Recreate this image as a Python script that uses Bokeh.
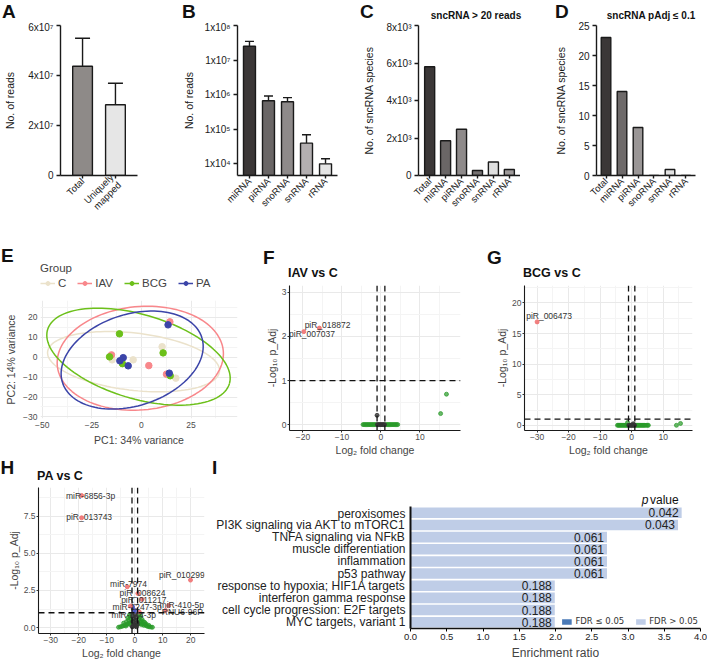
import math
import numpy as np
from bokeh.plotting import figure
from bokeh.layouts import row, column
from bokeh.models import (ColumnDataSource, FactorRange, Range1d, FixedTicker, Whisker,
                          TeeHead, Legend, LegendItem, Span, PrintfTickFormatter, Div)
from bokeh.core.properties import value
from bokeh.embed import file_html
from bokeh.resources import INLINE

FONT = "Liberation Sans"
NAN = float("nan")

# ---------------- data ----------------
a_cats = ["Total", "Uniquely\nmapped"]
a_vals = [4.37e7, 2.83e7]
a_upper = [5.49e7, 3.69e7]
a_colors = ["#8e8a88", "#e6e6e6"]
a_ticks = [0, 2e7, 4e7, 6e7]
a_tick_labels = ["0", "2x10\u2077", "4x10\u2077", "6x10\u2077"]

b_cats = ["miRNA", "piRNA", "snoRNA", "snRNA", "rRNA"]
b_vals = [2.5e7, 6.6e5, 6.2e5, 3.9e4, 9.8e3]
b_upper = [3.47e7, 9.1e5, 8.1e5, 6.8e4, 1.37e4]
b_colors = ["#3b3737", "#6a6666", "#8e8a8a", "#b3afb1", "#e4e4e4"]
b_ticks = [1e4, 1e5, 1e6, 1e7, 1e8]
b_tick_labels = ["1x10\u2074", "1x10\u2075", "1x10\u2076", "1x10\u2077", "1x10\u2078"]
b_axis_min = 4.5e3

c_cats = ["Total", "miRNA", "piRNA", "snoRNA", "snRNA", "rRNA"]
c_vals = [5800, 1850, 2470, 270, 720, 320]
c_colors = ["#3b3737", "#6a6666", "#8e8a8a", "#767272", "#e0e0e0", "#9e9a9a"]
c_ticks = [0, 2000, 4000, 6000, 8000]
c_tick_labels = ["0", "2x10\u00b3", "4x10\u00b3", "6x10\u00b3", "8x10\u00b3"]

d_cats = ["Total", "miRNA", "piRNA", "snoRNA", "snRNA", "rRNA"]
d_vals = [23, 14, 8, 0, 1, 0]
d_colors = ["#3b3737", "#6e6a6a", "#9a9696", "#b3afb1", "#e2e2e2", "#e2e2e2"]
d_ticks = [0, 5, 10, 15, 20, 25]

pca_groups = ["C", "IAV", "BCG", "PA"]
pca_colors = ["#ebe2cb", "#f8878b", "#6cc01a", "#3b44a8"]
pca_C_x = [10.4, -14.8, -4.2, 17.3]
pca_C_y = [5.3, -1.3, -1.3, -10.5]
pca_IAV_x = [14.3, -15.1, 3.7, 12.6]
pca_IAV_y = [17.8, 1.2, -4.2, -8.5]
pca_BCG_x = [-11.1, 10.9, -16.1, -9.6, 14.5]
pca_BCG_y = [11.8, 2.2, 0.2, -3.2, -9.3]
pca_PA_x = [13.4, -9.2, -10.9, -6.7, 14.0]
pca_PA_y = [16.3, -0.2, -1.8, -4.3, -8.0]
ell_cx = [-4.0, -0.6, -1.5, -4.7]
ell_cy = [-2.2, -0.5, 0.3, -1.4]
ell_w = [87.2, 84.0, 95.6, 73.8]
ell_h = [28.8, 52.0, 42.3, 46.0]
ell_angle_deg = [-6.6, 5.0, -16.5, 18.0]

# volcano F (IAV vs C)
f_ns_x = [-0.9, -0.6, -0.3, 0.0, 0.3, 0.6, 0.9, -1.0]
f_ns_y = [0, 0, 0, 0, 0, 0, 0, 0.21]
f_fc_x = [-4.6, -4.3, -4.0, -3.7, -3.4, -3.1, -2.8, -2.5, -2.2, -1.9, -1.6, -1.3,
          1.3, 1.6, 1.9, 2.2, 2.5, 2.8, 3.1, 3.4, 3.7, 4.0, 4.3, 15.3, 16.8]
f_fc_y = [0, 0, 0, 0, 0, 0, 0, 0, 0, 0, 0, 0,
          0, 0, 0, 0, 0, 0, 0, 0, 0, 0, 0, 0.25, 0.69]
f_sig_names = ["piR_018872", "piR_007037"]
f_sig_x = [-15.8, -19.8]
f_sig_y = [2.19, 2.11]
f_lab_x = [-13.7, -17.7]
f_lab_y = [2.27, 2.05]

# volcano G (BCG vs C)
g_ns_x = [-0.9, -0.6, -0.3, 0.0, 0.3, 0.6, 0.9, 0.5]
g_ns_y = [0, 0, 0, 0, 0, 0, 0, 0.25]
g_fc_x = [-4.5, -4.2, -3.9, -3.6, -3.3, -3.0, -2.7, -2.4, -2.1, -1.8, -1.5, -1.2,
          1.2, 1.5, 1.8, 2.1, 2.4, 2.7, 3.0, 3.3, 3.6, 3.9, 4.2, 4.6, 5.0, 5.3,
          14.2, 15.5, -1.3]
g_fc_y = [0, 0, 0, 0, 0, 0, 0, 0, 0, 0, 0, 0,
          0, 0, 0, 0, 0, 0, 0, 0, 0, 0, 0, 0, 0, 0,
          0.0, 0.3, 0.45]
g_sig_names = ["piR_006473"]
g_sig_x = [-30.0]
g_sig_y = [16.9]
g_lab_x = [-26.2]
g_lab_y = [17.8]

# volcano H (PA vs C)
h_ns_x = [-0.9, -0.6, -0.3, 0.0, 0.3, 0.6, 0.9, -0.7, 0.2, 0.8, -0.4, 0.5, -0.8, 0.1]
h_ns_y = [0.05, 0.1, 0.2, 0.15, 0.1, 0.05, 0.2, 0.4, 0.5, 0.35, 0.6, 0.7, 0.8, 0.9]
h_fc_x = [-5.8, -5.2, -4.6, -4.1, -3.6, -3.2, -2.8, -2.4, -2.0, -1.6, -1.3,
          1.3, 1.6, 2.0, 2.4, 2.8, 3.2, 3.6, 4.1, 4.6, 5.2, 5.8, 6.3,
          -4.0, -3.0, -2.2, -1.5, 1.5, 2.2, 3.0, 4.0, 5.0,
          -2.5, -1.7, 1.7, 2.6, 3.5, -1.9, 2.0, 1.4]
h_fc_y = [0.02, 0.05, 0.08, 0.12, 0.15, 0.1, 0.2, 0.25, 0.3, 0.2, 0.35,
          0.3, 0.25, 0.35, 0.2, 0.25, 0.15, 0.2, 0.12, 0.08, 0.05, 0.03, 0.02,
          0.3, 0.4, 0.5, 0.6, 0.55, 0.45, 0.4, 0.25, 0.15,
          0.65, 0.75, 0.7, 0.55, 0.35, 0.85, 0.8, 0.9]
h_p_x = [-0.8, -0.4, 0.3]
h_p_y = [1.4, 1.2, 1.1]
h_sig_names = ["miR-6856-3p", "piR_013743", "piR_010299", "miR-7974", "piR_008624",
               "piR_011217", "miR-1247-3p", "miR-410-5p", "RNU6-96P", "miR-144-3p"]
h_sig_x = [-19.0, -19.0, 19.9, -2.7, 1.1, 2.6, -1.6, 12.1, 11.0, 1.6]
h_sig_y = [8.9, 7.4, 3.2, 2.75, 2.3, 1.9, 1.45, 1.48, 1.15, 1.05]
h_lab_x = [-15.8, -16.3, 16.8, -2.25, 2.75, 3.2, 0.85, 16.8, 17.0, -0.35]
h_lab_y = [8.9, 7.42, 3.57, 2.93, 2.33, 1.88, 1.41, 1.52, 1.04, 0.82]

# enrichment (I)
i_terms = ["peroxisomes", "PI3K signaling via AKT to mTORC1", "TNFA signaling via NFkB",
           "muscle differentiation", "inflammation", "p53 pathway",
           "response to hypoxia; HIF1A targets", "interferon gamma response",
           "cell cycle progression: E2F targets", "MYC targets, variant 1"]
i_ratio = [3.74, 3.69, 2.71, 2.71, 2.71, 2.71, 1.99, 1.99, 1.99, 1.99]
i_pval = ["0.042", "0.043", "0.061", "0.061", "0.061", "0.061", "0.188", "0.188", "0.188", "0.188"]
i_ticks = [0.0, 0.5, 1.0, 1.5, 2.0, 2.5, 3.0, 3.5, 4.0]
i_xmax = 4.0

# ---------------- geometry (px from page top-left) ----------------
# left, top, min_border_left, frame_w, min_border_right, min_border_top, frame_h, min_border_bottom
G_A = (0, 21, 60, 77, 33, 4, 150, 52)
G_B = (170, 21, 67, 100, 3, 4, 150, 52)
G_C = (340, 21, 78, 102, 0, 4, 150, 52)
G_D = (520, 21, 76, 99, 12, 4, 150, 52)
G_EL = (0, 262, 40, 197, 11, 0, 33, 0)
G_E = (0, 295, 40, 197, 11, 5, 118, 40)
G_F = (248, 280, 41, 171, 18, 5, 145, 28)
G_G = (478, 280, 46, 168, 15, 5, 145, 28)
G_H = (0, 485, 38, 166, 6, 2, 146, 29)
G_I = (210, 506, 200, 290, 7, 0, 127, 29)
# header strips: left, top, width, height
H_1 = (0, 0, 707, 21)
H_E = (0, 227, 248, 35)
H_FG = (248, 227, 459, 53)
H_H = (0, 458, 210, 27)
H_I = (210, 458, 497, 48)


def make_fig(g, x_range, y_range, **kw):
    left, top, mbl, fw, mbr, mbt, fh, mbb = g
    p = figure(x_range=x_range, y_range=y_range, width=mbl + fw + mbr, height=mbt + fh + mbb,
               min_border_left=mbl, min_border_right=mbr, min_border_top=mbt,
               min_border_bottom=mbb, output_backend="svg", toolbar_location=None, **kw)
    p.outline_line_color = None
    p.background_fill_color = "white"
    p.border_fill_color = "white"
    return p


def span_html(x, y, text, size, weight="bold", style="normal", align="left"):
    tx = {"left": "0", "center": "-50%", "right": "-100%"}[align]
    return ('<span style="position:absolute;left:%.1fpx;top:%.1fpx;transform:translate(%s,-50%%);'
            'font-family:\'Liberation Sans\',Arial,sans-serif;font-size:%s;font-weight:%s;'
            'font-style:%s;white-space:nowrap;line-height:1;color:#111">%s</span>'
            % (x, y, tx, size, weight, style, text))


def header_div(h, items):
    left, top, w, hh = h
    parts = []
    for it in items:
        rx, ry, text, size = it[:4]
        kw = it[4] if len(it) > 4 else {}
        parts.append(span_html(rx - left, ry - top, text, size, **kw))
    html = ('<div style="position:relative;width:%dpx;height:%dpx;overflow:visible">%s</div>'
            % (w, hh, "".join(parts)))
    return Div(text=html, width=w, height=hh, margin=0)


def gp_style(p):
    for ax in (p.xaxis, p.yaxis):
        ax.axis_line_width = 1.4
        ax.axis_line_color = "#1a1a1a"
        ax.major_tick_line_width = 1.4
        ax.major_tick_line_color = "#1a1a1a"
        ax.major_tick_in = 0
        ax.major_tick_out = 4
        ax.minor_tick_out = 0
        ax.minor_tick_line_color = None
        ax.major_label_text_font = FONT
        ax.major_label_text_font_size = "10px"
        ax.major_label_text_color = "#1a1a1a"
        ax.major_label_text_line_height = 1.0
        ax.axis_label_text_font = FONT
        ax.axis_label_text_font_size = "10.5px"
        ax.axis_label_text_font_style = "normal"
        ax.axis_label_text_color = "#1a1a1a"
    p.yaxis.major_label_standoff = 3
    p.xaxis.major_label_standoff = 1
    p.xaxis.axis_label_standoff = 0
    p.xaxis.major_tick_out = 3
    p.xaxis.major_label_text_font_size = "9.5px"
    p.grid.grid_line_color = None
    p.xaxis.major_label_orientation = math.pi / 4


def bar_panel(g, cats, vals, colors, yr, ticks, labels, pad, bw, ylabel,
              upper=None, tee=10, bottom=0, log=False):
    kw = {"y_axis_type": "log"} if log else {}
    p = make_fig(g, FactorRange(factors=cats, range_padding=pad, range_padding_units="absolute"),
                 Range1d(*yr), **kw)
    src = ColumnDataSource(dict(cat=cats, val=vals, color=colors))
    if upper is not None:
        src.data["upper"] = upper
    p.vbar(x="cat", top="val", bottom=bottom, width=bw, fill_color="color",
           line_color="#1a1a1a", line_width=1.4, source=src)
    if upper is not None:
        p.add_layout(Whisker(base="cat", lower="val", upper="upper", source=src,
                             dimension="height", lower_head=None,
                             upper_head=TeeHead(size=tee, line_width=1.4, line_color="#1a1a1a"),
                             line_width=1.4, line_color="#1a1a1a"))
    p.yaxis.ticker = FixedTicker(ticks=ticks)
    if labels is not None:
        p.yaxis.major_label_overrides = {float(t): l for t, l in zip(ticks, labels)}
    p.yaxis.axis_label = ylabel
    gp_style(p)
    return p


pA = bar_panel(G_A, a_cats, a_vals, a_colors, (0, 6e7), a_ticks, a_tick_labels, 0.17, 0.6,
               "No. of reads", upper=a_upper, tee=15)
pB = bar_panel(G_B, b_cats, b_vals, b_colors, (b_axis_min, 1e8), b_ticks, b_tick_labels, 0.13,
               0.63, "No. of reads", upper=b_upper, tee=9, bottom=b_axis_min, log=True)
pC = bar_panel(G_C, c_cats, c_vals, c_colors, (0, 8000), c_ticks, c_tick_labels, 0.2, 0.63,
               "No. of sncRNA species")
pD = bar_panel(G_D, d_cats, d_vals, d_colors, (0, 25), d_ticks, None, 0.095, 0.6,
               "No. of sncRNA species")
pA.yaxis.axis_label_standoff = 9
pB.yaxis.axis_label_standoff = 7
pC.yaxis.axis_label_standoff = 8
pD.yaxis.axis_label_standoff = 8

div1 = header_div(H_1, [
    (2, 10.5, "A", "19px"), (182, 10.5, "B", "19px"), (360, 10.5, "C", "19px"),
    (555, 10.5, "D", "19px"),
    (476, 16, "sncRNA &gt; 20 reads", "10px", {"align": "center"}),
    (651, 16, "sncRNA pAdj \u2264 0.1", "10px", {"align": "center"}),
])

# ---------------- E: PCA ----------------
pE = make_fig(G_E, Range1d(-50.9, 48.4), Range1d(-30.8, 28.55))
pE.xaxis.ticker = FixedTicker(ticks=[-50, -25, 0, 25], minor_ticks=[-37.5, -12.5, 12.5, 37.5])
pE.yaxis.ticker = FixedTicker(ticks=[-30, -20, -10, 0, 10, 20], minor_ticks=[-25, -15, -5, 5, 15, 25])
pE.grid.grid_line_color = "#e9e9e9"
pE.grid.minor_grid_line_color = "#f4f4f4"
for ax in (pE.xaxis, pE.yaxis):
    ax.axis_line_color = None
    ax.major_tick_line_color = None
    ax.minor_tick_line_color = None
    ax.major_tick_out = 0
    ax.minor_tick_out = 0
    ax.major_label_text_font = FONT
    ax.major_label_text_font_size = "8.5px"
    ax.major_label_text_color = "#4d4d4d"
    ax.major_label_text_line_height = 0.9
    ax.major_label_standoff = 3
    ax.axis_label_text_font = FONT
    ax.axis_label_text_font_size = "10.5px"
    ax.axis_label_text_font_style = "normal"
    ax.axis_label_text_line_height = 0.9
    ax.axis_label_standoff = 3
pE.xaxis.axis_label = "PC1: 34% variance"
pE.yaxis.axis_label = "PC2: 14% variance"

t = np.linspace(0, 2 * np.pi, 120)
for cx, cy, w, h, ang, col in zip(ell_cx, ell_cy, ell_w, ell_h, ell_angle_deg, pca_colors):
    th = math.radians(ang)
    ex = cx + (w / 2) * np.cos(th) * np.cos(t) - (h / 2) * np.sin(th) * np.sin(t)
    ey = cy + (w / 2) * np.sin(th) * np.cos(t) + (h / 2) * np.cos(th) * np.sin(t)
    pE.line(ex, ey, line_color=col, line_width=1.5)

pts = {"C": (pca_C_x, pca_C_y), "IAV": (pca_IAV_x, pca_IAV_y),
       "BCG": (pca_BCG_x, pca_BCG_y), "PA": (pca_PA_x, pca_PA_y)}
for grp, col in zip(pca_groups, pca_colors):
    xs, ys = pts[grp]
    pE.scatter(xs, ys, size=6.5, color=col)

# legend strip for E (same frame columns as panel E)
pEL = make_fig(G_EL, Range1d(0, 1), Range1d(0, 1), x_axis_location=None, y_axis_location=None)
pEL.grid.visible = False
items = []
for grp, col in zip(pca_groups, pca_colors):
    lr = pEL.line(x=[NAN], y=[NAN], line_color=col, line_width=1.5)
    sr = pEL.scatter(x=[NAN], y=[NAN], size=6.5, color=col)
    items.append(LegendItem(label=grp, renderers=[lr, sr]))
legE = Legend(items=items, orientation="horizontal", title="Group", location="top_left",
              title_text_font=FONT, title_text_font_size="11.5px", title_text_font_style="normal",
              title_standoff=3, label_text_font=FONT, label_text_font_size="11.5px",
              glyph_width=15, glyph_height=10, label_standoff=3, label_width=6, spacing=11,
              padding=1, margin=0, border_line_color=None, background_fill_alpha=0)
pEL.add_layout(legE)

divE = header_div(H_E, [(1, 255, "E", "19px")])


# ---------------- volcano plots ----------------
def volcano(g, xr, yr, xt, xmt, yt, ymt, fc, ns, pp, sig, labs, names, yfmt=None):
    p = make_fig(g, Range1d(*xr), Range1d(*yr))
    p.xaxis.ticker = FixedTicker(ticks=xt, minor_ticks=xmt)
    p.yaxis.ticker = FixedTicker(ticks=yt, minor_ticks=ymt)
    if yfmt:
        p.yaxis.formatter = PrintfTickFormatter(format=yfmt)
    p.grid.grid_line_color = "#e9e9e9"
    p.grid.minor_grid_line_color = "#f4f4f4"
    for ax in (p.xaxis, p.yaxis):
        ax.axis_line_color = "#1a1a1a"
        ax.axis_line_width = 1.1
        ax.major_tick_line_color = "#333333"
        ax.major_tick_in = 0
        ax.major_tick_out = 2
        ax.minor_tick_out = 0
        ax.minor_tick_line_color = None
        ax.major_label_text_font = FONT
        ax.major_label_text_font_size = "8.5px"
        ax.major_label_text_color = "#4d4d4d"
        ax.major_label_text_line_height = 0.9
        ax.major_label_standoff = 1
        ax.axis_label_text_font = FONT
        ax.axis_label_text_font_size = "10.5px"
        ax.axis_label_text_font_style = "normal"
        ax.axis_label_text_line_height = 0.9
        ax.axis_label_standoff = 1
    p.xaxis.axis_label = "Log\u2082 fold change"
    p.yaxis.axis_label = "-Log\u2081\u2080 p_Adj"
    p.scatter(fc[0], fc[1], size=4, color="#2a9a2a", alpha=0.7)
    p.scatter(ns[0], ns[1], size=4, color="#333333", alpha=0.8)
    if pp is not None:
        p.scatter(pp[0], pp[1], size=4, color="#4a55c0", alpha=0.8)
    p.scatter(sig[0], sig[1], size=4, color="#f07272", alpha=0.9)
    for loc, dim in ((-1, "height"), (1, "height"), (1, "width")):
        p.add_layout(Span(location=loc, dimension=dim, line_color="#111111",
                          line_dash="6 4", line_width=1.3))
    p.text(x=labs[0], y=labs[1], text=names, text_font=value(FONT), text_font_size="8.5px",
           text_align="center", text_baseline="middle", text_color="#333333")
    return p


pF = volcano(G_F, (-23.46, 20.4), (-0.134, 3.157), [-20, -10, 0, 10], [-15, -5, 5, 15],
             [0, 1, 2, 3], [0.5, 1.5, 2.5], (f_fc_x, f_fc_y), (f_ns_x, f_ns_y), None,
             (f_sig_x, f_sig_y), (f_lab_x, f_lab_y), f_sig_names)
pG = volcano(G_G, (-34.0, 19.3), (-0.85, 22.85), [-30, -20, -10, 0, 10], [-25, -15, -5, 5, 15],
             [0, 5, 10, 15, 20], [2.5, 7.5, 12.5, 17.5, 22.5], (g_fc_x, g_fc_y), (g_ns_x, g_ns_y),
             None, (g_sig_x, g_sig_y), (g_lab_x, g_lab_y), g_sig_names)
pH = volcano(G_H, (-34.4, 24.9), (-0.4, 9.44), [-30, -20, -10, 0, 10, 20],
             [-25, -15, -5, 5, 15], [0, 2.5, 5.0, 7.5], [1.25, 3.75, 6.25, 8.75],
             (h_fc_x, h_fc_y), (h_ns_x, h_ns_y), (h_p_x, h_p_y), (h_sig_x, h_sig_y),
             (h_lab_x, h_lab_y), h_sig_names, yfmt="%.1f")

divFG = header_div(H_FG, [
    (263, 257, "F", "19px"), (487, 257, "G", "19px"),
    (288, 273, "IAV vs C", "12.5px"), (523, 273, "BCG vs C", "12.5px"),
])
divH = header_div(H_H, [(0.5, 467, "H", "19px"), (37, 476, "PA vs C", "12.5px")])

# ---------------- I: enrichment ----------------
pI = make_fig(G_I, Range1d(0, i_xmax),
              FactorRange(factors=list(reversed(i_terms)), range_padding=0.02,
                          range_padding_units="absolute"))
isrc = ColumnDataSource(dict(term=i_terms, ratio=i_ratio, p=i_pval))
r_light = pI.hbar(y="term", right="ratio", left=0, height=0.87, fill_color="#bfcde7",
                  line_color=None, source=isrc)
r_dark = pI.hbar(y=[i_terms[0]], right=[NAN], left=[NAN], height=0.87, fill_color="#4a7ab7",
                 line_color=None)
pI.text(x="ratio", y="term", text="p", source=isrc, x_offset=-3, text_font=value(FONT),
        text_font_size="12px", text_align="right", text_baseline="middle", text_color="#222222")
pI.grid.grid_line_color = None
pI.xaxis.ticker = FixedTicker(ticks=i_ticks)
pI.xaxis.formatter = PrintfTickFormatter(format="%.1f")
for ax in (pI.xaxis, pI.yaxis):
    ax.axis_line_color = "#111111"
    ax.major_label_text_font = FONT
    ax.major_label_text_color = "#222222"
    ax.major_label_text_line_height = 1.0
    ax.minor_tick_out = 0
    ax.minor_tick_line_color = None
    ax.axis_label_text_font = FONT
    ax.axis_label_text_font_style = "normal"
    ax.axis_label_text_font_size = "12px"
    ax.axis_label_text_line_height = 1.0
pI.yaxis.axis_line_width = 2
pI.yaxis.major_tick_line_color = None
pI.yaxis.major_tick_out = 0
pI.yaxis.major_label_text_font_size = "12px"
pI.yaxis.major_label_standoff = 5
pI.xaxis.axis_line_width = 1.5
pI.xaxis.major_tick_in = 0
pI.xaxis.major_tick_out = 3
pI.xaxis.major_label_text_font_size = "9.5px"
pI.xaxis.major_label_standoff = 2
pI.xaxis.axis_label = "Enrichment ratio"
pI.xaxis.axis_label_standoff = 3
legI = Legend(items=[LegendItem(label="FDR \u2264 0.05", renderers=[r_dark]),
                     LegendItem(label="FDR > 0.05", renderers=[r_light])],
              orientation="horizontal", location="bottom_right", glyph_width=12, glyph_height=7,
              label_text_font="DejaVu Sans", label_text_font_size="8.5px",
              label_text_color="#333333", label_standoff=3, spacing=10, padding=2, margin=2,
              border_line_color=None, background_fill_alpha=0)
pI.add_layout(legI)

# "p value" header aligned with the enrichment axis of panel I
i_frame_left = G_I[0] + G_I[2]
i_fw = G_I[3]
x_value = i_frame_left + 3.31 / i_xmax * i_fw
x_p = i_frame_left + 3.29 / i_xmax * i_fw
divI = header_div(H_I, [
    (212, 467, "I", "19px"),
    (x_p, 500, "p", "12px", {"weight": "normal", "style": "italic", "align": "right"}),
    (x_value, 500, "value", "12px", {"weight": "normal"}),
])

layout = column(
    div1,
    row(pA, pB, pC, pD),
    row(column(divE, pEL, pE), column(divFG, row(pF, pG))),
    row(column(divH, pH), column(divI, pI)),
)
open("out.html", "w").write(file_html(layout, INLINE))
